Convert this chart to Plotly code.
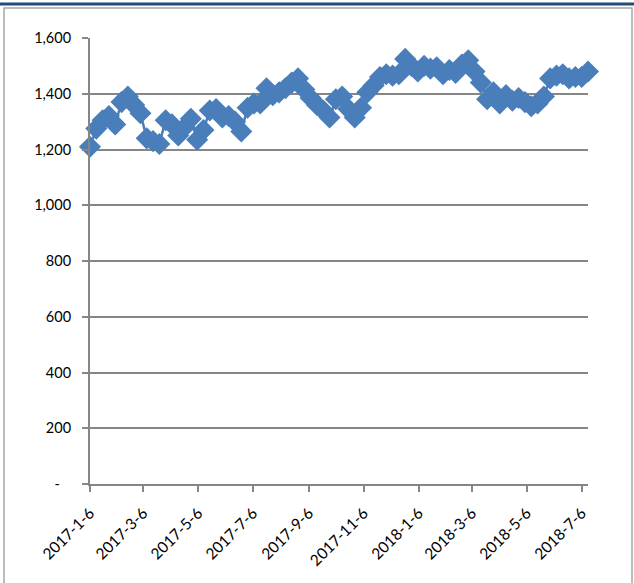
import pandas as pd
import plotly.graph_objects as go

# Weekly observations (Fridays), starting 2017-01-06
start_date = "2017-01-06"
n_weeks = 80
weeks = pd.date_range(start_date, periods=n_weeks, freq="7D")

values = [
    1210, 1275, 1305, 1320, 1290, 1370, 1390, 1360, 1330, 1240,
    1230, 1220, 1305, 1290, 1250, 1280, 1310, 1235, 1270, 1340,
    1345, 1315, 1320, 1300, 1265, 1350, 1365, 1365, 1420, 1395,
    1405, 1420, 1440, 1455, 1415, 1385, 1360, 1340, 1315, 1380,
    1390, 1345, 1315, 1350, 1405, 1430, 1460, 1470, 1465, 1470,
    1525, 1500, 1480, 1500, 1490, 1495, 1470, 1485, 1475, 1505,
    1520, 1480, 1440, 1380, 1405, 1365, 1395, 1375, 1385, 1370,
    1355, 1365, 1390, 1455, 1465, 1470, 1455, 1460, 1460, 1480,
]

x_tick_dates = ["2017-01-06", "2017-03-06", "2017-05-06", "2017-07-06", "2017-09-06",
                "2017-11-06", "2018-01-06", "2018-03-06", "2018-05-06", "2018-07-06"]
x_tick_labels = ["2017-1-6", "2017-3-6", "2017-5-6", "2017-7-6", "2017-9-6",
                 "2017-11-6", "2018-1-6", "2018-3-6", "2018-5-6", "2018-7-6"]

y_tick_vals = [0, 200, 400, 600, 800, 1000, 1200, 1400, 1600]
y_tick_labels = ["-\u00a0\u00a0\u00a0", "200", "400", "600", "800",
                 "1,000", "1,200", "1,400", "1,600"]

BLUE = "#4A7EBB"
GRID = "#868686"

fig = go.Figure()
fig.add_trace(go.Scatter(
    x=weeks, y=values, mode="lines+markers",
    line=dict(color=BLUE, width=2.5),
    marker=dict(symbol="diamond", size=17, color=BLUE, line=dict(width=0)),
    cliponaxis=False,
    showlegend=False, hoverinfo="x+y",
))

W, H = 634, 583
L, R, T, B = 90, 46, 38, 99
pw, ph = W - L - R, H - T - B


def px_x(p):
    return (p - L) / pw


def px_y(p):
    return (H - B - p) / ph


fig.update_layout(
    width=W, height=H,
    margin=dict(l=L, r=R, t=T, b=B),
    paper_bgcolor="white", plot_bgcolor="white",
    font=dict(family="Lato, 'Open Sans', sans-serif", color="#000000", size=14),
    xaxis=dict(
        type="date",
        range=[weeks[0], weeks[-1]],
        tickmode="array", tickvals=x_tick_dates, ticktext=x_tick_labels,
        tickangle=-45, tickfont=dict(size=15.5),
        ticklabelstandoff=6,
        ticks="outside", ticklen=6, tickcolor=GRID, tickwidth=2,
        showgrid=False, zeroline=False,
        showline=True, linecolor=GRID, linewidth=2,
    ),
    yaxis=dict(
        range=[0, 1600],
        tickmode="array", tickvals=y_tick_vals, ticktext=y_tick_labels,
        tickfont=dict(size=14.5),
        ticklabelstandoff=8,
        ticks="outside", ticklen=6, tickcolor=GRID, tickwidth=2,
        showgrid=True, gridcolor=GRID, gridwidth=2,
        zeroline=False,
        showline=True, linecolor=GRID, linewidth=2,
    ),
    shapes=[
        # outer chart frame
        dict(type="rect", xref="paper", yref="paper",
             x0=px_x(4), x1=px_x(632), y0=px_y(620), y1=px_y(8),
             line=dict(color="#A6A6A6", width=1.5), fillcolor="rgba(0,0,0,0)", layer="below"),
        # dark band along the top edge
        dict(type="line", xref="paper", yref="paper",
             x0=px_x(0), x1=px_x(634), y0=px_y(4), y1=px_y(4),
             line=dict(color="#1F4E79", width=3)),
    ],
)

fig.write_html("out.html")
